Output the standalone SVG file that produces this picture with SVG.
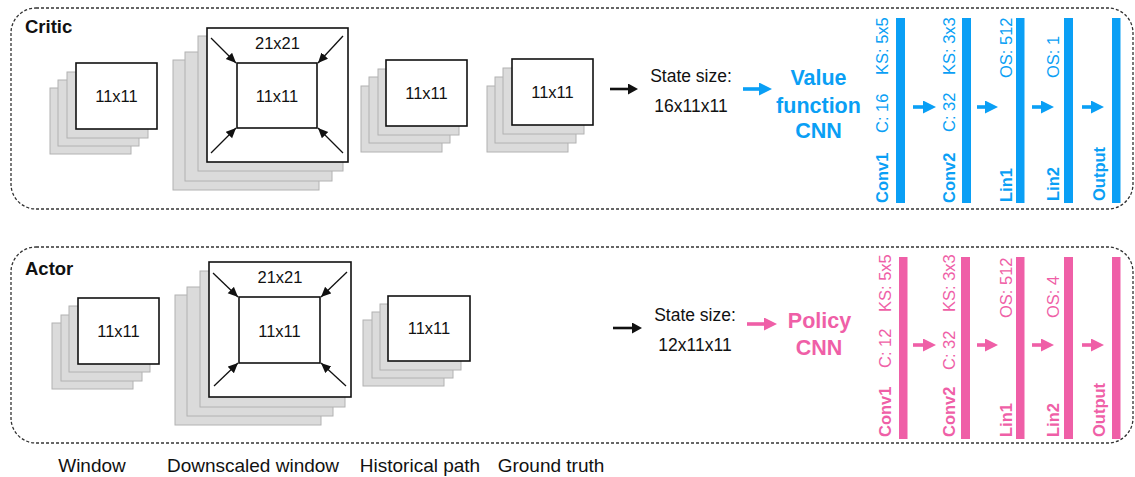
<svg xmlns="http://www.w3.org/2000/svg" width="1135" height="477" viewBox="0 0 1135 477">
<style>
text{font-family:"Liberation Sans",Arial,Helvetica,sans-serif;}
.frame{fill:none;stroke:#333;stroke-width:1.3;stroke-dasharray:3 2;}
.lay{fill:#dbdbdb;stroke:#b2b2b2;stroke-width:1;}
.front{fill:#fff;stroke:#111;stroke-width:1.6;}
.lbl{font-size:16.5px;fill:#111;text-anchor:middle;}
.cap{font-size:19px;fill:#111;text-anchor:middle;}
.st{font-size:17.5px;fill:#111;text-anchor:middle;}
.title{font-size:18.5px;font-weight:bold;fill:#111;}
.big{font-size:21.5px;font-weight:bold;text-anchor:middle;}
.blue{fill:#0a9ff5;}
.pink{fill:#ef5fa7;}
.ln{font-size:16.5px;}
.lb{font-size:16.5px;font-weight:bold;}
.corner{stroke:#111;stroke-width:1.3;fill:none;marker-end:url(#ah)}
.blk{stroke:#111;stroke-width:2.6;fill:none;marker-end:url(#ahb)}
.bl{stroke:#0a9ff5;stroke-width:3.6;fill:none;marker-end:url(#ahblue)}
.pk{stroke:#ef5fa7;stroke-width:3.6;fill:none;marker-end:url(#ahpink)}
</style>
<defs>
<marker id="ah" markerUnits="userSpaceOnUse" markerWidth="12" markerHeight="10" refX="10" refY="4.5" orient="auto"><path d="M0,0 L10,4.5 L0,9 z" fill="#111"/></marker>
<marker id="ahb" markerUnits="userSpaceOnUse" markerWidth="11" markerHeight="11" refX="1" refY="5.5" orient="auto"><path d="M0,0 L10,5.5 L0,11 z" fill="#111"/></marker>
<marker id="ahblue" markerUnits="userSpaceOnUse" markerWidth="14" markerHeight="14" refX="1" refY="6.5" orient="auto"><path d="M0,0 L13,6.5 L0,13 z" fill="#0a9ff5"/></marker>
<marker id="ahpink" markerUnits="userSpaceOnUse" markerWidth="14" markerHeight="14" refX="1" refY="6.5" orient="auto"><path d="M0,0 L13,6.5 L0,13 z" fill="#ef5fa7"/></marker>
</defs>

<g id="critic-frame">
<rect class="frame" x="11" y="8" width="1122" height="201" rx="25"/>
<text class="title" x="25" y="33">Critic</text>
</g>
<g id="actor-frame">
<rect class="frame" x="11" y="247" width="1122" height="196" rx="25"/>
<text class="title" x="25" y="275">Actor</text>
</g>

<g id="critic-window">
<rect class="lay" x="50" y="88" width="81" height="66"/>
<rect class="lay" x="58" y="80" width="81" height="66"/>
<rect class="lay" x="67" y="72" width="81" height="66"/>
<rect class="front" x="76" y="63" width="81" height="66"/>
<text class="lbl" x="116.5" y="102">11x11</text>
</g>
<g id="critic-downscaled">
<rect class="lay" x="173" y="60" width="146" height="130"/>
<rect class="lay" x="185" y="52" width="147" height="129"/>
<rect class="lay" x="198" y="36" width="145" height="135"/>
<rect class="front" x="207" y="28" width="141" height="134"/>
<rect class="front" x="237" y="63" width="80" height="65"/>
<text class="lbl" x="277.5" y="49">21x21</text>
<text class="lbl" x="277" y="102">11x11</text>
<line class="corner" x1="211" y1="38" x2="236" y2="63"/>
<line class="corner" x1="343" y1="36" x2="318" y2="63"/>
<line class="corner" x1="211" y1="153" x2="236" y2="128"/>
<line class="corner" x1="343" y1="153" x2="318" y2="128"/>
</g>
<g id="critic-history">
<rect class="lay" x="361" y="86" width="81" height="66"/>
<rect class="lay" x="369" y="77" width="81" height="66"/>
<rect class="lay" x="378" y="69" width="81" height="66"/>
<rect class="front" x="386" y="60" width="81" height="66"/>
<text class="lbl" x="426.5" y="99">11x11</text>
</g>
<g id="critic-truth">
<rect class="lay" x="487" y="86" width="81" height="66"/>
<rect class="lay" x="495" y="77" width="81" height="66"/>
<rect class="lay" x="503" y="68" width="81" height="66"/>
<rect class="front" x="512" y="59" width="81" height="66"/>
<text class="lbl" x="552.5" y="98">11x11</text>
</g>
<g id="critic-state">
<text class="st" x="691" y="82">State size:</text>
<text class="st" x="691" y="112">16x11x11</text>
</g>
<g id="critic-cnn">
<text class="big blue" x="818.5" y="85">Value</text>
<text class="big blue" x="818.5" y="113">function</text>
<text class="big blue" x="818.5" y="138">CNN</text>
</g>
<g id="critic-layers">
<rect class="blue" x="896" y="18" width="9" height="185"/>
<rect class="blue" x="962" y="18" width="9" height="185"/>
<rect class="blue" x="1016" y="18" width="8.5" height="185"/>
<rect class="blue" x="1064" y="18" width="9" height="185"/>
<rect class="blue" x="1112" y="18" width="8.5" height="185"/>
<text class="lb blue" transform="translate(888,203) rotate(-90)">Conv1</text>
<text class="ln blue" transform="translate(888,133) rotate(-90)">C: 16</text>
<text class="ln blue" transform="translate(888,75) rotate(-90)">KS: 5x5</text>
<text class="lb blue" transform="translate(955,203) rotate(-90)">Conv2</text>
<text class="ln blue" transform="translate(955,132) rotate(-90)">C: 32</text>
<text class="ln blue" transform="translate(955,75) rotate(-90)">KS: 3x3</text>
<text class="lb blue" transform="translate(1012,202) rotate(-90)">Lin1</text>
<text class="ln blue" transform="translate(1012,78) rotate(-90)">OS: 512</text>
<text class="lb blue" transform="translate(1059,201) rotate(-90)">Lin2</text>
<text class="ln blue" transform="translate(1059,78) rotate(-90)">OS: 1</text>
<text class="lb blue" transform="translate(1105,201) rotate(-90)">Output</text>
</g>

<g id="actor-window">
<rect class="lay" x="52" y="323" width="81" height="66"/>
<rect class="lay" x="61" y="315" width="81" height="66"/>
<rect class="lay" x="69" y="306" width="81" height="66"/>
<rect class="front" x="78" y="298" width="81" height="66"/>
<text class="lbl" x="118.5" y="337">11x11</text>
</g>
<g id="actor-downscaled">
<rect class="lay" x="175" y="295" width="146" height="130"/>
<rect class="lay" x="187" y="287" width="146" height="129"/>
<rect class="lay" x="200" y="271" width="145" height="136"/>
<rect class="front" x="209" y="262" width="142" height="135"/>
<rect class="front" x="239" y="297" width="81" height="66"/>
<text class="lbl" x="280" y="283">21x21</text>
<text class="lbl" x="279.5" y="337">11x11</text>
<line class="corner" x1="213" y1="273" x2="238" y2="297"/>
<line class="corner" x1="347" y1="272" x2="321" y2="297"/>
<line class="corner" x1="214" y1="386" x2="238" y2="363"/>
<line class="corner" x1="346" y1="386" x2="321" y2="363"/>
</g>
<g id="actor-history">
<rect class="lay" x="363" y="320" width="81" height="66"/>
<rect class="lay" x="372" y="312" width="81" height="66"/>
<rect class="lay" x="380" y="304" width="81" height="66"/>
<rect class="front" x="388" y="296" width="82" height="65"/>
<text class="lbl" x="429" y="334">11x11</text>
</g>
<g id="actor-state">
<text class="st" x="695" y="321">State size:</text>
<text class="st" x="695" y="351">12x11x11</text>
</g>
<g id="actor-cnn">
<text class="big pink" x="819.5" y="328">Policy</text>
<text class="big pink" x="819" y="355">CNN</text>
</g>
<g id="actor-layers">
<rect class="pink" x="899" y="257" width="8.5" height="182"/>
<rect class="pink" x="961" y="257" width="9" height="182"/>
<rect class="pink" x="1016" y="257" width="8.5" height="182"/>
<rect class="pink" x="1064" y="257" width="9" height="182"/>
<rect class="pink" x="1112" y="257" width="8.5" height="182"/>
<text class="lb pink" transform="translate(891,437) rotate(-90)">Conv1</text>
<text class="ln pink" transform="translate(891,368) rotate(-90)">C: 12</text>
<text class="ln pink" transform="translate(891,312) rotate(-90)">KS: 5x5</text>
<text class="lb pink" transform="translate(955,437) rotate(-90)">Conv2</text>
<text class="ln pink" transform="translate(955,370) rotate(-90)">C: 32</text>
<text class="ln pink" transform="translate(955,312) rotate(-90)">KS: 3x3</text>
<text class="lb pink" transform="translate(1012,437) rotate(-90)">Lin1</text>
<text class="ln pink" transform="translate(1012,318) rotate(-90)">OS: 512</text>
<text class="lb pink" transform="translate(1059,437) rotate(-90)">Lin2</text>
<text class="ln pink" transform="translate(1059,318) rotate(-90)">OS: 4</text>
<text class="lb pink" transform="translate(1105,437) rotate(-90)">Output</text>
</g>

<g id="captions">
<text class="cap" x="92" y="472">Window</text>
<text class="cap" x="253" y="472">Downscaled window</text>
<text class="cap" x="420" y="472">Historical path</text>
<text class="cap" x="551" y="472">Ground truth</text>
</g>

<g id="connectors">
<line class="blk" x1="610" y1="89" x2="629" y2="89"/>
<line class="blk" x1="613" y1="328" x2="633" y2="328"/>
<line class="bl" x1="743" y1="89" x2="760" y2="89"/>
<line class="pk" x1="747" y1="324" x2="765" y2="324"/>
<line class="bl" x1="913" y1="107" x2="924" y2="107"/>
<line class="bl" x1="977" y1="107" x2="986" y2="107"/>
<line class="bl" x1="1032" y1="107" x2="1042" y2="107"/>
<line class="bl" x1="1082" y1="107" x2="1092" y2="107"/>
<line class="pk" x1="913" y1="345" x2="924" y2="345"/>
<line class="pk" x1="977" y1="345" x2="986" y2="345"/>
<line class="pk" x1="1032" y1="345" x2="1042" y2="345"/>
<line class="pk" x1="1082" y1="345" x2="1092" y2="345"/>
</g>
</svg>
